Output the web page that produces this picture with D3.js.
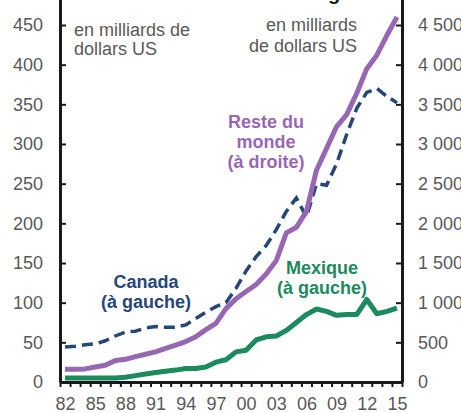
<!DOCTYPE html>
<meta charset="utf-8">
<script src="https://d3js.org/d3.v7.min.js"></script>
<style>
body { margin: 0; background: #fff; }
text { font-family: "Liberation Sans", Arial, sans-serif; }
.axis text { font-size: 18px; fill: #595959; }
.axis .domain { stroke: #1a1a1a; stroke-width: 3px; }
.axis line { stroke: #1a1a1a; stroke-width: 2px; }
</style>
<svg width="461" height="413"></svg>
<script>

// years 1982-2015
var years = [1982,1983,1984,1985,1986,1987,1988,1989,1990,1991,1992,1993,1994,1995,1996,1997,1998,
             1999,2000,2001,2002,2003,2004,2005,2006,2007,2008,2009,2010,2011,2012,2013,2014,2015];

// left axis, milliards $US
var canada = [44,45,47,48,52,58,63,64,68,70,69,69,72,80,88,95,100,
              118,140,158,172,192,215,232,208,250,248,275,312,345,365,370,360,352];
var mexique = [5,5,5,5,5,5,6,8,10,12,13.5,15,17,17,19,25,28,
               38,40,53,57,58,65,75,85,92,89,84,85,85,104,86,89,93];
// right axis, milliards $US
var resteMonde = [160,160,165,190,210,270,286,320,350,380,425,466,510,570,660,740,925,
                  1050,1140,1230,1360,1530,1880,1950,2150,2670,2945,3220,3370,3640,3950,4120,4370,4600];

var leftTicks = [0,50,100,150,200,250,300,350,400,450,500];
var rightTicks = [0,500,1000,1500,2000,2500,3000,3500,4000,4500,5000];
var yearLabels = [1982,1985,1988,1991,1994,1997,2000,2003,2006,2009,2012,2015];

var svg = d3.select("svg");

var x = d3.scaleLinear().domain([1981.5, 2015.5]).range([60, 402]);
var yL = d3.scaleLinear().domain([0, 500]).range([382, 382 - 500 * 357 / 450]);
var yR = d3.scaleLinear().domain([0, 5000]).range([382, 382 - 500 * 357 / 450]);

var fr = d3.formatLocale({decimal: ",", thousands: "\u00a0", grouping: [3], currency: ["", ""]});

// cut off title at the top
svg.append("text")
    .attr("x", 359).attr("y", 0)
    .attr("text-anchor", "end")
    .style("font-size", "20px").style("font-weight", "bold").style("fill", "#1a1a1a")
    .text("Investissement direct à l'étranger");

// tick marks between years
svg.append("g")
    .attr("class", "axis")
    .attr("transform", "translate(0,382)")
    .call(d3.axisBottom(x)
      .tickValues(d3.range(1981.5, 2016, 1))
      .tickSize(5).tickSizeOuter(0)
      .tickFormat(""));

// year labels
var xl = svg.append("g")
    .attr("class", "axis")
    .attr("transform", "translate(0,382)")
    .call(d3.axisBottom(x)
      .tickValues(yearLabels)
      .tickSize(0).tickPadding(15)
      .tickFormat(function(d) { return String(d).slice(2); }));
xl.select(".domain").remove();

svg.append("g")
    .attr("class", "axis")
    .attr("transform", "translate(60,0)")
    .call(d3.axisLeft(yL)
      .tickValues(leftTicks)
      .tickSizeInner(-6).tickSizeOuter(0)
      .tickPadding(17));

svg.append("g")
    .attr("class", "axis")
    .attr("transform", "translate(402,0)")
    .call(d3.axisRight(yR)
      .tickValues(rightTicks)
      .tickSizeInner(-6).tickSizeOuter(0)
      .tickPadding(16)
      .tickFormat(fr.format(",")));

var lineL = d3.line()
    .x(function(d, i) { return x(years[i]); })
    .y(function(d) { return yL(d); });
var lineR = d3.line()
    .x(function(d, i) { return x(years[i]); })
    .y(function(d) { return yR(d); });

svg.append("path")
    .datum(canada)
    .attr("d", lineL)
    .attr("fill", "none")
    .attr("stroke", "#24467a")
    .attr("stroke-width", 3.5)
    .attr("stroke-dasharray", "11,6");

svg.append("path")
    .datum(resteMonde)
    .attr("d", lineR)
    .attr("fill", "none")
    .attr("stroke", "#9767b5")
    .attr("stroke-width", 5)
    .attr("stroke-linejoin", "round");

svg.append("path")
    .datum(mexique)
    .attr("d", lineL)
    .attr("fill", "none")
    .attr("stroke", "#1b8a5c")
    .attr("stroke-width", 5)
    .attr("stroke-linejoin", "round");

// labels
function label(lines, px, py, color, bold, anchor, lh) {
  var t = svg.append("text")
      .attr("text-anchor", anchor)
      .style("font-size", "18px")
      .style("font-weight", bold ? "bold" : "normal")
      .style("fill", color);
  lines.forEach(function(s, i) {
    t.append("tspan").attr("x", px).attr("y", py + i * lh).text(s);
  });
}

label(["en milliards de", "dollars US"], 74, 36, "#595959", false, "start", 19);
label(["en milliards", "de dollars US"], 357, 31, "#595959", false, "end", 21);
label(["Reste du", "monde", "(à droite)"], 266, 128, "#9767b5", true, "middle", 20);
label(["Canada", "(à gauche)"], 146, 288, "#24467a", true, "middle", 20);
label(["Mexique", "(à gauche)"], 322, 274, "#1b8a5c", true, "middle", 20);

</script>
